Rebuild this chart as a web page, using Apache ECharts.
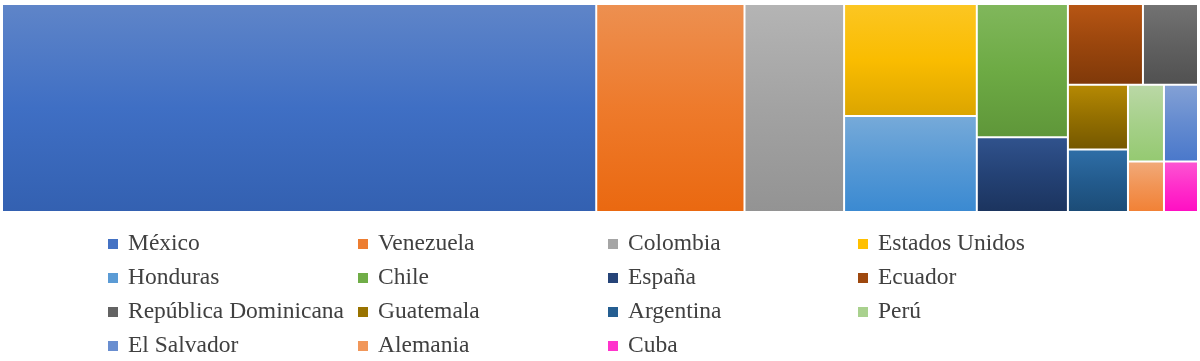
<!DOCTYPE html>
<html>
<head>
<meta charset="utf-8">
<script src="https://cdn.jsdelivr.net/npm/echarts@6/dist/echarts.min.js"></script>
<style>
  html, body { margin: 0; padding: 0; background: #ffffff; }
  #chart { width: 1200px; height: 361px; }
</style>
</head>
<body>
<div id="chart"></div>
<script>
// ---- data (relative shares) ----
const countries = ['México', 'Venezuela', 'Colombia', 'Estados Unidos', 'Honduras', 'Chile', 'España',
  'Ecuador', 'República Dominicana', 'Guatemala', 'Argentina', 'Perú', 'El Salvador', 'Alemania', 'Cuba'];
const shares = [49.7, 12.4, 8.33, 5.98, 5.12, 4.88, 2.74, 2.44, 1.79, 1.56, 1.51, 1.11, 1.05, 0.73, 0.69];
const colors = ['#4472C4', '#ED7D31', '#A5A5A5', '#FFC000', '#5B9BD5', '#70AD47', '#264478',
  '#9E480E', '#636363', '#997300', '#255E91', '#A9D18E', '#698ED0', '#F1975A', '#FF33CC'];
// tiling hint (indices into the arrays above), reproducing the spreadsheet's tile grouping
const tiling = [0, 1, 2, [[3, 4], [5, 6]], [7, 8, [9, 10, [[11, 12], [13, 14]]]]];

function hexToHsl(hex) {
  const n = parseInt(hex.slice(1), 16);
  const r = ((n >> 16) & 255) / 255, g = ((n >> 8) & 255) / 255, b = (n & 255) / 255;
  const max = Math.max(r, g, b), min = Math.min(r, g, b);
  let h = 0, s = 0; const l = (max + min) / 2;
  if (max !== min) {
    const d = max - min;
    s = l > 0.5 ? d / (2 - max - min) : d / (max + min);
    if (max === r) h = (g - b) / d + (g < b ? 6 : 0);
    else if (max === g) h = (b - r) / d + 2;
    else h = (r - g) / d + 4;
    h /= 6;
  }
  return [h, s, l];
}
function hslStr(h, s, l) {
  s = Math.max(0, Math.min(1, s)); l = Math.max(0, Math.min(1, l));
  return 'hsl(' + (h * 360).toFixed(1) + ',' + (s * 100).toFixed(1) + '%,' + (l * 100).toFixed(1) + '%)';
}
function grad(hex) {
  const [h, s, l] = hexToHsl(hex);
  const sat = s > 0.02;
  return new echarts.graphic.LinearGradient(0, 0, 0, 1, [
    { offset: 0, color: hslStr(h, sat ? s - 0.03 : 0, l + 0.06) },
    { offset: 0.5, color: hslStr(h, sat ? s + 0.01 : 0, l - 0.01) },
    { offset: 1, color: hslStr(h, sat ? s + 0.03 : 0, l - 0.07) }
  ]);
}
function build(node) {
  if (Array.isArray(node)) {
    return { name: '', children: node.map(build), itemStyle: { borderWidth: 0, gapWidth: 0 } };
  }
  return {
    name: countries[node],
    value: shares[node],
    itemStyle: { color: grad(colors[node]), borderColor: '#ffffff', borderWidth: 1 }
  };
}

const chart = echarts.init(document.getElementById('chart'), null, { renderer: 'canvas' });
chart.setOption({
  animation: false,
  backgroundColor: '#ffffff',
  legend: {
    data: countries,
    left: 103,
    top: 227,
    width: 1000,
    orient: 'horizontal',
    icon: 'rect',
    itemWidth: 10,
    itemHeight: 10,
    itemGap: 10,
    selectedMode: false,
    itemStyle: { borderWidth: 0 },
    textStyle: {
      fontFamily: 'Liberation Serif',
      fontSize: 23.5,
      color: '#404040',
      width: 220,
      lineHeight: 23,
      padding: [0, 0, 0, 5]
    }
  },
  series: [
    {
      type: 'treemap',
      left: 2,
      top: 4,
      width: 1196,
      height: 208,
      sort: false,
      squareRatio: 1.2,
      roam: false,
      nodeClick: false,
      breadcrumb: { show: false },
      label: { show: false },
      upperLabel: { show: false },
      itemStyle: { borderWidth: 0, gapWidth: 0, borderColor: '#ffffff' },
      emphasis: { disabled: true },
      data: tiling.map(build)
    },
    {
      type: 'pie',
      radius: [0, 0],
      center: [-50, -50],
      silent: true,
      label: { show: false },
      labelLine: { show: false },
      itemStyle: { borderWidth: 0 },
      emphasis: { disabled: true },
      data: countries.map((n, i) => ({ name: n, value: shares[i], itemStyle: { color: colors[i] } }))
    }
  ]
});
</script>
</body>
</html>
